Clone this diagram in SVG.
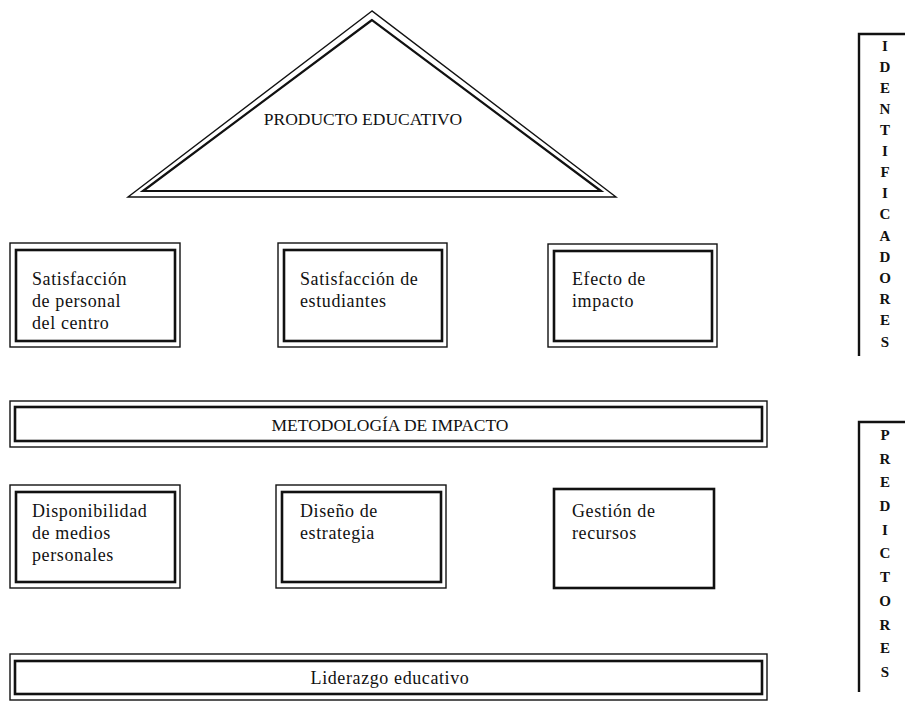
<svg xmlns="http://www.w3.org/2000/svg" width="905" height="702" viewBox="0 0 905 702">
  <style>
    .outer { fill: none; stroke: #111; stroke-width: 1.4; }
    .inner { fill: none; stroke: #111; stroke-width: 2.6; }
    .tri-in { fill: none; stroke: #111; stroke-width: 2.2; }
    .single { fill: none; stroke: #111; stroke-width: 2.6; }
    .bracket { fill: none; stroke: #111; stroke-width: 2.4; }
    .lbl { font-family: "Liberation Serif", "Times New Roman", serif; font-size: 18px; letter-spacing: 0.6px; fill: #111; }
    .cap { font-family: "Liberation Serif", "Times New Roman", serif; font-size: 17.5px; fill: #111; }
    .vert { font-family: "Liberation Serif", "Times New Roman", serif; font-size: 15px; font-weight: bold; fill: #111; text-anchor: middle; }
  </style>
  <rect width="905" height="702" fill="#fff"/>

  <!-- apex: product -->
  <g id="producto">
    <polygon class="outer" points="372,11 128,197 616,197"/>
    <polygon class="tri-in" points="372,20 143,191 601,191"/>
    <text class="cap" x="363" y="125" text-anchor="middle">PRODUCTO EDUCATIVO</text>
  </g>

  <!-- identifier boxes -->
  <g id="sat-personal">
    <rect class="outer" x="10" y="243" width="170" height="104"/>
    <rect class="inner" x="16" y="250" width="159" height="91"/>
    <text class="lbl" x="32" y="285">Satisfacción</text>
    <text class="lbl" x="32" y="307">de personal</text>
    <text class="lbl" x="32" y="329">del centro</text>
  </g>
  <g id="sat-estudiantes">
    <rect class="outer" x="278" y="243" width="169" height="104"/>
    <rect class="inner" x="284" y="250" width="158" height="91"/>
    <text class="lbl" x="300" y="285">Satisfacción de</text>
    <text class="lbl" x="300" y="307">estudiantes</text>
  </g>
  <g id="efecto">
    <rect class="outer" x="548" y="244" width="169" height="103"/>
    <rect class="inner" x="554" y="251" width="158" height="90"/>
    <text class="lbl" x="572" y="285">Efecto de</text>
    <text class="lbl" x="572" y="307">impacto</text>
  </g>

  <!-- methodology bar -->
  <g id="metodologia">
    <rect class="outer" x="10" y="401" width="757" height="46"/>
    <rect class="inner" x="15" y="407" width="747" height="34"/>
    <text class="cap" x="390" y="431" text-anchor="middle">METODOLOGÍA DE IMPACTO</text>
  </g>

  <!-- predictor boxes -->
  <g id="disponibilidad">
    <rect class="outer" x="10" y="485" width="170" height="103"/>
    <rect class="inner" x="16" y="492" width="159" height="90"/>
    <text class="lbl" x="32" y="517">Disponibilidad</text>
    <text class="lbl" x="32" y="539">de medios</text>
    <text class="lbl" x="32" y="561">personales</text>
  </g>
  <g id="diseno">
    <rect class="outer" x="276" y="485" width="170" height="103"/>
    <rect class="inner" x="282" y="492" width="159" height="90"/>
    <text class="lbl" x="300" y="517">Diseño de</text>
    <text class="lbl" x="300" y="539">estrategia</text>
  </g>
  <g id="gestion">
    <rect class="single" x="554" y="489" width="160" height="99"/>
    <text class="lbl" x="572" y="517">Gestión de</text>
    <text class="lbl" x="572" y="539">recursos</text>
  </g>

  <!-- leadership bar -->
  <g id="liderazgo">
    <rect class="outer" x="10" y="654" width="757" height="46"/>
    <rect class="inner" x="15" y="661" width="747" height="33"/>
    <text class="lbl" x="390" y="684" text-anchor="middle">Liderazgo educativo</text>
  </g>

  <!-- side brackets -->
  <g id="identificadores">
    <path class="bracket" d="M905,34 H859 V356"/>
    <text class="vert" x="885" y="51">I</text>
    <text class="vert" x="885" y="72">D</text>
    <text class="vert" x="885" y="93">E</text>
    <text class="vert" x="885" y="114">N</text>
    <text class="vert" x="885" y="135">T</text>
    <text class="vert" x="885" y="156">I</text>
    <text class="vert" x="885" y="177">F</text>
    <text class="vert" x="885" y="198">I</text>
    <text class="vert" x="885" y="219">C</text>
    <text class="vert" x="885" y="241">A</text>
    <text class="vert" x="885" y="262">D</text>
    <text class="vert" x="885" y="283">O</text>
    <text class="vert" x="885" y="304">R</text>
    <text class="vert" x="885" y="325">E</text>
    <text class="vert" x="885" y="347">S</text>
  </g>
  <g id="predictores">
    <path class="bracket" d="M905,422 H859 V692"/>
    <text class="vert" x="885" y="440">P</text>
    <text class="vert" x="885" y="464">R</text>
    <text class="vert" x="885" y="487">E</text>
    <text class="vert" x="885" y="511">D</text>
    <text class="vert" x="885" y="535">I</text>
    <text class="vert" x="885" y="558">C</text>
    <text class="vert" x="885" y="582">T</text>
    <text class="vert" x="885" y="606">O</text>
    <text class="vert" x="885" y="630">R</text>
    <text class="vert" x="885" y="653">E</text>
    <text class="vert" x="885" y="677">S</text>
  </g>
</svg>
